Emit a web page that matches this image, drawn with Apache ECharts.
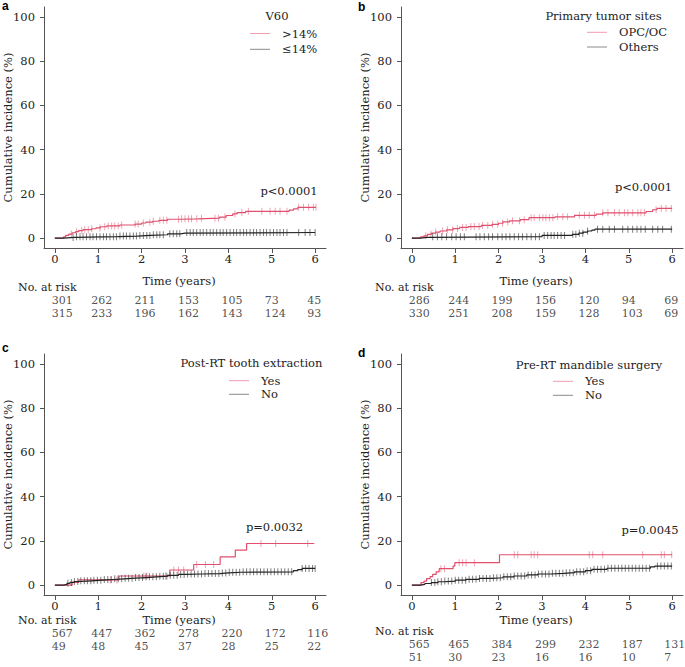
<!DOCTYPE html>
<html><head><meta charset="utf-8">
<script src="https://cdn.jsdelivr.net/npm/echarts@6/dist/echarts.min.js"></script>
<style>html,body{margin:0;padding:0;background:#fff}#c{width:685px;height:667px}</style>
</head><body><div id="c"></div>
<script>
// ---------- DATA ----------
const TIME_TICKS = [0, 1, 2, 3, 4, 5, 6];
const Y_TICKS = [0, 20, 40, 60, 80, 100];

// Panel a: V60
const aTitle = 'V60';
const aNames = ['>14%', '\u226414%'];
const aHiSteps = [[0,0],[0.2,0.5],[0.25,1.2],[0.32,1.8],[0.4,2.4],[0.48,2.9],[0.55,3.4],[0.65,3.8],[0.85,4.2],[0.95,4.6],[1.05,5.1],[1.2,5.5],[1.5,5.9],[1.85,6.3],[2.0,6.8],[2.1,7.2],[2.25,7.6],[2.4,8.0],[2.6,8.5],[2.9,8.7],[3.3,9.0],[3.8,9.5],[3.95,10.2],[4.1,10.9],[4.2,11.5],[4.4,12.1],[5.4,12.6],[5.5,13.2],[5.6,13.9],[6.02,13.9]];
const aLoSteps = [[0,0],[0.2,0.3],[0.45,0.6],[1.45,0.9],[1.9,1.2],[2.2,1.5],[2.6,1.9],[2.9,2.2],[3.0,2.5],[6.0,2.5]];
const aHiCens = [0.38,0.5,0.62,0.69,0.77,0.85,1.04,1.15,1.23,1.31,1.38,1.46,1.54,1.85,1.92,2.04,2.19,2.27,2.42,2.5,2.58,2.85,2.92,3.0,3.08,3.15,3.27,3.38,3.69,3.77,3.92,4.15,4.31,4.46,4.77,4.96,5.08,5.19,5.35,5.62,5.73,5.85,5.96,6.02];
const aLoCens = [0.42,0.5,0.58,0.65,0.73,0.81,0.88,0.96,1.04,1.12,1.19,1.27,1.35,1.42,1.5,1.58,1.65,1.73,1.81,1.88,1.96,2.04,2.12,2.19,2.27,2.35,2.42,2.5,2.65,2.73,2.81,2.88,3.04,3.12,3.19,3.27,3.35,3.42,3.5,3.58,3.65,3.73,3.81,3.88,3.96,4.04,4.12,4.19,4.27,4.35,4.42,4.5,4.58,4.65,4.73,4.81,4.88,4.96,5.04,5.12,5.19,5.27,5.35,5.62,5.77,5.88,6.0];
const aRisk1 = [301, 262, 211, 153, 105, 73, 45];
const aRisk2 = [315, 233, 196, 162, 143, 124, 93];
const aP = 'p<0.0001';

// Panel b: Primary tumor sites
const bTitle = 'Primary tumor sites';
const bNames = ['OPC/OC', 'Others'];
const bHiSteps = [[0,0],[0.2,0.5],[0.28,1.0],[0.36,1.7],[0.45,2.2],[0.55,2.7],[0.65,3.2],[0.8,3.7],[0.95,4.3],[1.1,4.8],[1.3,5.2],[1.6,5.7],[1.85,6.2],[2.0,6.7],[2.1,7.3],[2.25,7.8],[2.5,8.3],[2.7,9.2],[3.3,9.6],[3.75,10.3],[4.25,10.8],[4.4,11.4],[5.4,12.0],[5.55,12.8],[5.65,13.4],[6.0,13.4]];
const bLoSteps = [[0,0],[0.2,0.3],[0.35,0.6],[3.0,1.2],[3.7,1.7],[3.85,2.2],[3.95,2.7],[4.05,3.2],[4.15,3.6],[4.22,4.0],[6.0,4.0]];
const bHiCens = [0.32,0.44,0.55,0.71,0.82,0.94,1.05,1.17,1.25,1.36,1.44,1.55,1.63,1.75,1.86,1.98,2.09,2.21,2.32,2.48,2.59,2.75,2.82,2.94,3.02,3.09,3.17,3.25,3.36,3.48,3.59,3.86,3.98,4.09,4.21,4.4,4.52,4.67,4.78,4.9,4.98,5.09,5.21,5.28,5.36,5.63,5.75,5.86,5.98];
const bLoCens = [0.48,0.59,0.69,0.8,0.92,1.02,1.12,1.21,1.48,1.57,1.67,1.77,1.86,1.98,2.08,2.17,2.26,2.36,2.46,2.55,2.65,2.75,2.85,2.94,3.05,3.13,3.21,3.28,3.36,3.44,3.52,3.71,3.78,3.86,3.94,4.05,4.28,4.4,4.55,4.67,4.86,4.98,5.09,5.19,5.28,5.38,5.55,5.67,5.78,5.98];
const bRisk1 = [286, 244, 199, 156, 120, 94, 69];
const bRisk2 = [330, 251, 208, 159, 128, 103, 69];
const bP = 'p<0.0001';

// Panel c: Post-RT tooth extraction
const cTitle = 'Post-RT tooth extraction';
const cNames = ['Yes', 'No'];
const cHiSteps = [[0,0],[0.4,1.2],[0.55,2.3],[1.48,4.1],[2.65,6.8],[3.2,9.3],[3.81,12.7],[4.16,15.8],[4.42,18.8],[5.98,18.8]];
const cLoSteps = [[0,0],[0.2,0.3],[0.28,0.8],[0.35,1.2],[0.45,1.6],[0.6,1.9],[0.85,2.2],[1.1,2.5],[1.35,2.8],[1.6,3.1],[1.85,3.4],[2.1,3.7],[2.35,4.0],[2.6,4.4],[2.85,4.8],[3.0,5.0],[3.4,5.2],[3.8,5.5],[4.0,5.8],[4.3,6.0],[5.5,6.5],[5.6,7.0],[5.7,7.5],[6.0,7.5]];
const cHiCens = [1.28,1.43,2.05,2.12,2.55,2.74,2.85,2.97,3.27,3.47,3.66,4.75,5.09,5.83];
const cLoCens = [0.3,0.38,0.45,0.53,0.6,0.68,0.75,0.83,0.9,0.98,1.06,1.14,1.22,1.3,1.38,1.46,1.54,1.62,1.7,1.78,1.86,1.94,2.02,2.1,2.18,2.26,2.34,2.42,2.5,2.58,2.66,2.74,2.82,2.9,2.98,3.06,3.14,3.22,3.3,3.38,3.46,3.54,3.62,3.7,3.78,3.86,3.94,4.02,4.1,4.18,4.26,4.34,4.42,4.5,4.58,4.66,4.74,4.82,4.9,4.98,5.06,5.14,5.22,5.3,5.38,5.46,5.7,5.78,5.86,5.94,6.0];
const cRisk1 = [567, 447, 362, 278, 220, 172, 116];
const cRisk2 = [49, 48, 45, 37, 28, 25, 22];
const cP = 'p=0.0032';

// Panel d: Pre-RT mandible surgery
const dTitle = 'Pre-RT mandible surgery';
const dNames = ['Yes', 'No'];
const dHiSteps = [[0,0],[0.21,1.1],[0.28,1.8],[0.34,2.9],[0.42,3.8],[0.48,4.8],[0.56,6.0],[0.63,7.4],[0.95,8.6],[0.99,10.1],[2.02,13.7],[6.0,13.7]];
const dLoSteps = [[0,0],[0.2,0.3],[0.3,0.7],[0.45,1.1],[0.6,1.5],[0.75,1.8],[1.0,2.2],[1.25,2.6],[1.55,3.0],[1.85,3.3],[2.1,3.7],[2.35,4.1],[2.65,4.6],[2.9,5.0],[3.2,5.3],[3.5,5.6],[3.75,6.0],[4.0,6.5],[4.15,7.1],[4.5,7.6],[5.5,8.2],[5.6,8.6],[6.0,8.6]];
const dHiCens = [0.67,0.75,1.09,1.17,1.25,1.44,2.36,2.44,2.75,2.82,2.9,4.09,4.17,4.4,5.32,5.75,5.82,5.99];
const dLoCens = [0.45,0.53,0.6,0.68,0.76,0.84,0.92,1.0,1.08,1.16,1.24,1.32,1.4,1.48,1.56,1.64,1.72,1.8,1.88,1.96,2.04,2.12,2.2,2.28,2.36,2.44,2.52,2.6,2.68,2.76,2.84,2.92,3.0,3.08,3.16,3.24,3.32,3.4,3.48,3.56,3.64,3.72,3.8,3.88,3.96,4.04,4.12,4.2,4.28,4.36,4.44,4.52,4.6,4.68,4.76,4.84,4.92,5.0,5.08,5.16,5.24,5.32,5.4,5.48,5.66,5.74,5.82,5.9,5.98];
const dRisk1 = [565, 465, 384, 299, 232, 187, 131];
const dRisk2 = [51, 30, 23, 16, 16, 10, 7];
const dP = 'p=0.0045';

// ---------- STYLE / LAYOUT ----------
const FONT = 'DejaVu Serif';
const FS = 11.5;
const FS_NUM = 11;
const RED = '#e0506e', RED_T = 'rgba(224,80,110,0.65)';
const BLK = '#222222', BLK_T = 'rgba(40,40,40,0.75)';
const LEG_RED = '#f29ab0', LEG_BLK = '#8a8a8a';
const AX = '#555555', TXT = '#222222';

const panels = [
  {letter:'a', title:aTitle, names:aNames, steps:[aHiSteps,aLoSteps], cens:[aHiCens,aLoCens], risk:[aRisk1,aRisk2], p:aP},
  {letter:'b', title:bTitle, names:bNames, steps:[bHiSteps,bLoSteps], cens:[bHiCens,bLoCens], risk:[bRisk1,bRisk2], p:bP},
  {letter:'c', title:cTitle, names:cNames, steps:[cHiSteps,cLoSteps], cens:[cHiCens,cLoCens], risk:[cRisk1,cRisk2], p:cP},
  {letter:'d', title:dTitle, names:dNames, steps:[dHiSteps,dLoSteps], cens:[dHiCens,dLoCens], risk:[dRisk1,dRisk2], p:dP}
];
const layout = [
  {left:44, top:7, riskTop:300, riskH:13, nameGap:27, labelMargin:5, letterXY:[2,0], legTitle:[277,16], legLeft:250, legTop:27.5, legGap:3.8, pXY:[289,191], noRisk:[18,287]},
  {left:401, top:7, riskTop:300, riskH:13, nameGap:27, labelMargin:5, letterXY:[358,0.5], legTitle:[603.5,16], legLeft:587, legTop:26.3, legGap:2.7, pXY:[643.5,187], noRisk:[375,287]},
  {left:44, top:354, riskTop:633.5, riskH:12.8, nameGap:19, labelMargin:5, letterXY:[2,342], legTitle:[251.5,363], legLeft:229, legTop:374.7, legGap:1.6, pXY:[274.5,527], noRisk:[18,620.5]},
  {left:401, top:354, riskTop:644, riskH:13, nameGap:19, labelMargin:5, letterXY:[358,347], legTitle:[589,365], legLeft:553, legTop:375.3, legGap:2, pXY:[650,530], noRisk:[375,631]}
];
const GW = 282, GH = 241;
const XMIN = -0.25, XMAX = 6.25, YMIN = -4.5, YMAX = 104.5;
const RISK_OFFSETS = [-3, -7, -7, -7, -7, -7, -8];

function stepAt(steps, t) {
  let v = steps[0][1];
  for (const s of steps) { if (s[0] <= t) v = s[1]; else break; }
  return v;
}

const grid = [], xAxis = [], yAxis = [], series = [], legend = [], graphic = [];
const textStyleBase = {fontFamily: FONT, fontSize: FS, color: TXT};

panels.forEach((p, i) => {
  const L = layout[i];
  const gi = grid.length;
  grid.push({left: L.left, top: L.top, width: GW, height: GH, outerBoundsMode: 'none', containLabel: false});
  grid.push({left: L.left, top: L.riskTop, width: GW, height: L.riskH, outerBoundsMode: 'none', containLabel: false});
  xAxis.push({
    gridIndex: gi, type: 'value', min: XMIN, max: XMAX,
    name: 'Time (years)', nameLocation: 'middle', nameGap: L.nameGap, nameMoveOverlap: false,
    nameTextStyle: {fontFamily: FONT, fontSize: FS, color: TXT, padding: [0, 12, 0, 0], lineHeight: 11},
    axisLine: {show: true, onZero: false, lineStyle: {color: AX, width: 1}},
    axisTick: {show: true, length: 5, customValues: TIME_TICKS, lineStyle: {color: AX}},
    axisLabel: {customValues: TIME_TICKS, margin: L.labelMargin, fontFamily: FONT, fontSize: FS, color: TXT, lineHeight: 11},
    splitLine: {show: false}
  });
  xAxis.push({gridIndex: gi + 1, type: 'value', min: XMIN, max: XMAX, show: false});
  yAxis.push({
    gridIndex: gi, type: 'value', min: YMIN, max: YMAX,
    name: 'Cumulative incidence (%)', nameLocation: 'middle', nameGap: 30, nameMoveOverlap: false,
    nameTextStyle: {fontFamily: FONT, fontSize: FS, color: TXT},
    axisLine: {show: true, onZero: false, lineStyle: {color: AX, width: 1}},
    axisTick: {show: true, length: 4, customValues: Y_TICKS, lineStyle: {color: AX}},
    axisLabel: {customValues: Y_TICKS, margin: 9, fontFamily: FONT, fontSize: FS, color: TXT},
    splitLine: {show: false}
  });
  yAxis.push({gridIndex: gi + 1, type: 'value', min: 0, max: 1, show: false});

  const lineColors = [RED, BLK], tickColors = [RED_T, BLK_T];
  [0, 1].forEach(k => {
    series.push({
      type: 'line', name: p.names[k], xAxisIndex: gi, yAxisIndex: gi,
      data: p.steps[k], step: 'end', showSymbol: false, symbol: 'none',
      lineStyle: {color: lineColors[k], width: 1.2}, itemStyle: {color: lineColors[k]},
      z: 3 + k, silent: true
    });
    series.push({
      type: 'scatter', name: p.letter + '-cens-' + k, xAxisIndex: gi, yAxisIndex: gi,
      data: p.cens[k].map(t => [t, stepAt(p.steps[k], t)]),
      symbol: 'rect', symbolSize: [1, 7], itemStyle: {color: tickColors[k]},
      z: 3 + k, silent: true
    });
    series.push({
      type: 'scatter', name: p.letter + '-risk-' + k, xAxisIndex: gi + 1, yAxisIndex: gi + 1,
      data: p.risk[k].map((n, j) => ({value: [TIME_TICKS[j], 1 - k, n], label: {offset: [RISK_OFFSETS[j], 0]}})),
      symbol: 'circle', symbolSize: 1, itemStyle: {color: 'rgba(0,0,0,0)'}, silent: true,
      label: {show: true, position: 'inside', align: 'left', verticalAlign: 'middle', lineHeight: 9,
        formatter: q => String(q.value[2]), fontFamily: FONT, fontSize: FS_NUM, color: TXT}
    });
  });

  legend.push({
    left: L.legLeft, top: L.legTop, orient: 'vertical', padding: 0, itemGap: L.legGap,
    itemWidth: 20, itemHeight: 14, icon: 'path://M0,0h20v1h-20z', symbolKeepAspect: true,
    selectedMode: false,
    textStyle: {fontFamily: FONT, fontSize: FS, color: TXT, padding: [0, 0, 0, 7]},
    data: [{name: p.names[0], itemStyle: {color: LEG_RED}}, {name: p.names[1], itemStyle: {color: LEG_BLK}}]
  });

  graphic.push({type: 'text', x: L.letterXY[0], y: L.letterXY[1],
    style: {text: p.letter, font: 'bold 12px "Liberation Sans", Arial, sans-serif', lineHeight: 12, fill: '#000', textAlign: 'left', textVerticalAlign: 'top'}});
  graphic.push({type: 'text', x: L.legTitle[0], y: L.legTitle[1],
    style: {text: p.title, font: FS + 'px "' + FONT + '"', fill: TXT, textAlign: 'center', textVerticalAlign: 'middle'}});
  graphic.push({type: 'text', x: L.pXY[0], y: L.pXY[1],
    style: {text: p.p, font: FS + 'px "' + FONT + '"', fill: TXT, textAlign: 'center', textVerticalAlign: 'middle'}});
  graphic.push({type: 'text', x: L.noRisk[0], y: L.noRisk[1],
    style: {text: 'No. at risk', font: FS_NUM + 'px "' + FONT + '"', lineHeight: 9, fill: TXT, textAlign: 'left', textVerticalAlign: 'middle'}});
});

const chart = echarts.init(document.getElementById('c'), null, {renderer: 'svg'});
chart.setOption({
  animation: false,
  backgroundColor: '#ffffff',
  textStyle: textStyleBase,
  grid, xAxis, yAxis, series, legend, graphic
});
</script></body></html>
